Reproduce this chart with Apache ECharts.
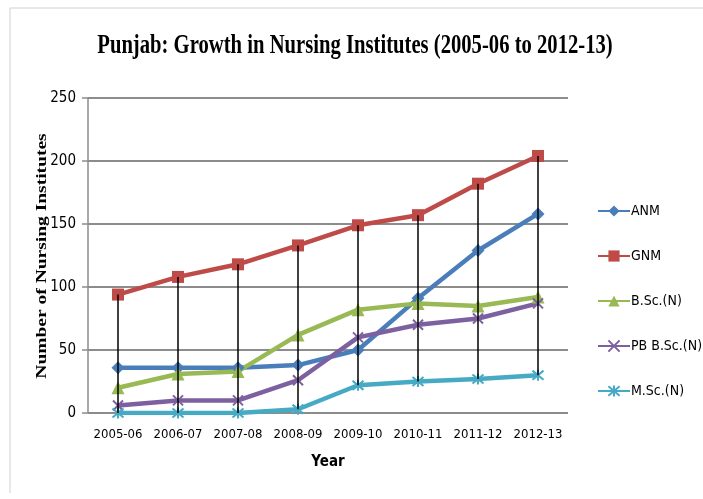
<!DOCTYPE html>
<html>
<head>
<meta charset="utf-8">
<script src="https://cdn.jsdelivr.net/npm/echarts@6/dist/echarts.min.js"></script>
<style>
  html, body { margin: 0; padding: 0; background: #fff; }
  #chart { width: 703px; height: 499px; }
</style>
</head>
<body>
<div id="chart"></div>
<script>
var years = ['2005-06', '2006-07', '2007-08', '2008-09', '2009-10', '2010-11', '2011-12', '2012-13'];
var anm = [36, 36, 36, 38, 50, 91, 129, 158];
var gnm = [94, 108, 118, 133, 149, 157, 182, 204];
var bsc = [20, 31, 33, 62, 82, 87, 85, 92];
var pbBsc = [6, 10, 10, 26, 60, 70, 75, 87];
var msc = [0, 0, 0, 3, 22, 25, 27, 30];
var yTicks = [0, 50, 100, 150, 200, 250];

var narrow = "'Liberation Sans Narrow', 'DejaVu Sans Condensed', Roboto, sans-serif";
var serif = "'Liberation Serif', 'DejaVu Serif', serif";

// high-low lines between the top and bottom series at each year
var allSeries = [anm, gnm, bsc, pbBsc, msc];
var hiLo = years.map(function (y, i) {
  var vals = allSeries.map(function (s) { return s[i]; });
  return [i, Math.max.apply(null, vals), Math.min.apply(null, vals)];
});

var xMark = 'path://M0,0L10,10M10,0L0,10';
var starMark = 'path://M0,0L10,10M10,0L0,10M5,-1L5,11';

function lineSeries(name, data, color, symbol, size, stroke) {
  return {
    name: name,
    type: 'line',
    data: data,
    symbol: symbol,
    symbolSize: size,
    showAllSymbol: true,
    lineStyle: { color: color, width: 4.5 },
    itemStyle: stroke
      ? { color: color, borderColor: color, borderWidth: 2 }
      : { color: color },
    z: 3
  };
}

var chart = echarts.init(document.getElementById('chart'));
chart.setOption({
  animation: false,
  graphic: [
    {
      type: 'polyline',
      shape: { points: [[10, 493], [10, 8], [703, 8]] },
      style: { stroke: '#d0d0d0', lineWidth: 1, fill: null },
      silent: true
    },
    {
      type: 'text',
      x: 355,
      y: 46,
      scaleX: 0.765,
      style: {
        text: 'Punjab: Growth in Nursing Institutes (2005-06 to 2012-13)',
        font: 'bold 27px ' + serif,
        fill: '#000',
        align: 'center',
        verticalAlign: 'middle'
      }
    },
    {
      type: 'text',
      x: 42,
      y: 256,
      rotation: Math.PI / 2,
      scaleX: 1.3,
      style: {
        text: 'Number of Nursing Institutes',
        font: 'bold 15px ' + serif,
        fill: '#000',
        align: 'center',
        verticalAlign: 'middle'
      }
    }
  ],
  legend: {
    orient: 'vertical',
    left: 592,
    top: 199,
    itemWidth: 32,
    itemHeight: 14,
    itemGap: 31,
    data: ['ANM', 'GNM', 'B.Sc.(N)', 'PB B.Sc.(N)', 'M.Sc.(N)'],
    textStyle: { fontFamily: narrow, fontSize: 14, color: '#000', padding: [0, 0, 0, -4] }
  },
  grid: { left: 88, right: 135, top: 98, bottom: 86 },
  xAxis: {
    type: 'category',
    data: years,
    name: 'Year',
    nameLocation: 'middle',
    nameGap: 42,
    nameTextStyle: { fontFamily: narrow, fontSize: 15, fontWeight: 'bold', color: '#000' },
    axisLine: { show: false },
    axisTick: { show: false },
    axisLabel: { interval: 0, fontFamily: narrow, fontSize: 13, color: '#000', margin: 15 }
  },
  yAxis: {
    type: 'value',
    min: 0,
    max: 250,
    interval: 50,
    axisLine: { show: true, lineStyle: { color: '#8c8c8c', width: 1.5 } },
    axisTick: { show: true, length: 6, lineStyle: { color: '#8c8c8c', width: 1.5 } },
    axisLabel: {
      fontFamily: narrow, fontSize: 15, color: '#000', margin: 12,
      formatter: function (v) { return yTicks.indexOf(v) >= 0 ? String(v) : ''; }
    },
    splitLine: { lineStyle: { color: '#8c8c8c', width: 2 } }
  },
  series: [
    lineSeries('ANM', anm, '#4a7ebb', 'diamond', 13, false),
    lineSeries('GNM', gnm, '#be4b48', 'rect', 12, false),
    lineSeries('B.Sc.(N)', bsc, '#98b954', 'triangle', 13, false),
    lineSeries('PB B.Sc.(N)', pbBsc, '#7d60a0', xMark, 10, true),
    lineSeries('M.Sc.(N)', msc, '#46aac5', starMark, 11, true),
    {
      type: 'custom',
      data: hiLo,
      z: 10,
      silent: true,
      renderItem: function (params, api) {
        var top = api.coord([api.value(0), api.value(1)]);
        var bottom = api.coord([api.value(0), api.value(2)]);
        return {
          type: 'line',
          shape: { x1: top[0], y1: top[1], x2: bottom[0], y2: bottom[1] },
          style: { stroke: '#000', lineWidth: 1.5 }
        };
      }
    }
  ]
});
</script>
</body>
</html>
